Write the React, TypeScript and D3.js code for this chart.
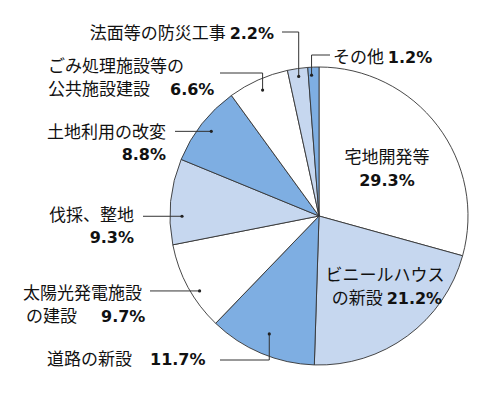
import React, { useRef, useEffect } from "react";
import * as d3 from "d3";

const width = 500;
const height = 396;
const cx = 319;
const cy = 216;
const radius = 149;

// 割合 (%)
const names = [
  "宅地開発等",
  "ビニールハウスの新設",
  "道路の新設",
  "太陽光発電施設の建設",
  "伐採、整地",
  "土地利用の改変",
  "ごみ処理施設等の公共施設建設",
  "法面等の防災工事",
  "その他",
];
const values = [29.3, 21.2, 11.7, 9.7, 9.3, 8.8, 6.6, 2.2, 1.2];
const pctLabels = ["29.3%", "21.2%", "11.7%", "9.7%", "9.3%", "8.8%", "6.6%", "2.2%", "1.2%"];
const fills = ["#ffffff", "#c6d7ef", "#7eaee2"];

// ラベルの行: jp = 日本語, num = 数値 (pctLabels の添字), x/y = 位置
type Piece = { jp?: string; num?: boolean; x: number; y: number };
const labelPieces: Piece[][] = [
  [{ jp: "宅地開発等", x: 387, y: 157 }, { num: true, x: 387, y: 180 }],
  [{ jp: "ビニールハウス", x: 385, y: 275 }, { jp: "の新設 ", x: 387, y: 298 }],
  [{ jp: "道路の新設", x: 47, y: 359 }, { num: true, x: 150, y: 359 }],
  [{ jp: "太陽光発電施設", x: 23, y: 293 }, { jp: "の建設", x: 26, y: 316 }, { num: true, x: 101, y: 316 }],
  [{ jp: "伐採、整地", x: 134, y: 215 }, { num: true, x: 134, y: 237 }],
  [{ jp: "土地利用の改変", x: 166, y: 132 }, { num: true, x: 166, y: 154 }],
  [{ jp: "ごみ処理施設等の", x: 48, y: 66 }, { jp: "公共施設建設", x: 48, y: 89 }, { num: true, x: 170, y: 89 }],
  [{ jp: "法面等の防災工事 ", x: 274, y: 33 }],
  [{ jp: "その他 ", x: 333, y: 57 }],
];
const anchors = ["middle", "middle", "start", "start", "end", "end", "start", "end", "start"];
// 行末に数値を続けるラベル
const inlineNum = [false, true, false, false, false, false, false, true, true];

// 引き出し線: 点の位置 (扇形内の角度割合 t, 半径 r) と折れ点
type Leader = { t: number; r: number; y?: number; x: number };
const leaders: (Leader | null)[] = [
  null,
  null,
  { t: 0.5, r: 128, y: 360, x: 220 },
  { t: 0.4, r: 141, x: 150 },
  { t: 0.33, r: 137, x: 143 },
  { t: 0.5, r: 137, x: 175 },
  { t: 0.5, r: 138, y: 73, x: 220 },
  { t: 0.5, r: 141, y: 32, x: 282 },
  { t: 0.3, r: 141, y: 55, x: 330 },
];

const jpFont = "'Noto Sans CJK JP', sans-serif";
const numFont = "'DejaVu Sans', Verdana, sans-serif";

export default function App() {
  const svgRef = useRef<SVGSVGElement>(null);

  useEffect(() => {
    if (!svgRef.current) return;
    const svg = d3.select(svgRef.current);
    svg.selectAll("*").remove();

    svg.append("rect").attr("width", width).attr("height", height).attr("fill", "#fff");

    const pie = d3.pie<number>().sort(null).value(d => d);
    const arcs = pie(values);
    const arc = d3.arc<d3.PieArcDatum<number>>().innerRadius(0).outerRadius(radius);

    const g = svg.append("g").attr("transform", `translate(${cx},${cy})`);

    g.selectAll("path")
      .data(arcs)
      .join("path")
      .attr("d", arc)
      .attr("fill", (d, i) => fills[i % 3])
      .attr("stroke", "#333")
      .attr("stroke-width", 0.9)
      .attr("stroke-linejoin", "round");

    // 引き出し線と点
    arcs.forEach((d, i) => {
      const lead = leaders[i];
      if (!lead) return;
      const a = d.startAngle + (d.endAngle - d.startAngle) * lead.t;
      const px = cx + lead.r * Math.sin(a);
      const py = cy - lead.r * Math.cos(a);
      const pts: [number, number][] = [[px, py]];
      if (lead.y !== undefined) {
        pts.push([px, lead.y]);
        pts.push([lead.x, lead.y]);
      } else {
        pts.push([lead.x, py]);
      }
      svg.append("path")
        .attr("d", d3.line()(pts))
        .attr("fill", "none")
        .attr("stroke", "#333")
        .attr("stroke-width", 1);
      svg.append("circle")
        .attr("cx", px)
        .attr("cy", py)
        .attr("r", 1.6)
        .attr("fill", "#222");
    });

    // ラベル (1 ラベル = 1 text 要素)
    labelPieces.forEach((pieces, i) => {
      const t = svg.append("text")
        .attr("text-anchor", anchors[i])
        .attr("fill", "#111");
      pieces.forEach(p => {
        const s = t.append("tspan").attr("x", p.x).attr("y", p.y + 6);
        if (p.jp) {
          s.attr("font-family", jpFont).attr("font-size", 17).text(p.jp);
        } else {
          s.attr("font-family", numFont).attr("font-weight", "bold").attr("font-size", 16).text(pctLabels[i]);
        }
      });
      if (inlineNum[i]) {
        t.append("tspan")
          .attr("font-family", numFont)
          .attr("font-weight", "bold")
          .attr("font-size", 16)
          .text(pctLabels[i]);
      }
    });
  }, []);

  return (
    <svg
      ref={svgRef}
      width={width}
      height={height}
      style={{ position: "absolute", left: 0, top: 0 }}
      aria-label={names.join(", ")}
    ></svg>
  );
}
